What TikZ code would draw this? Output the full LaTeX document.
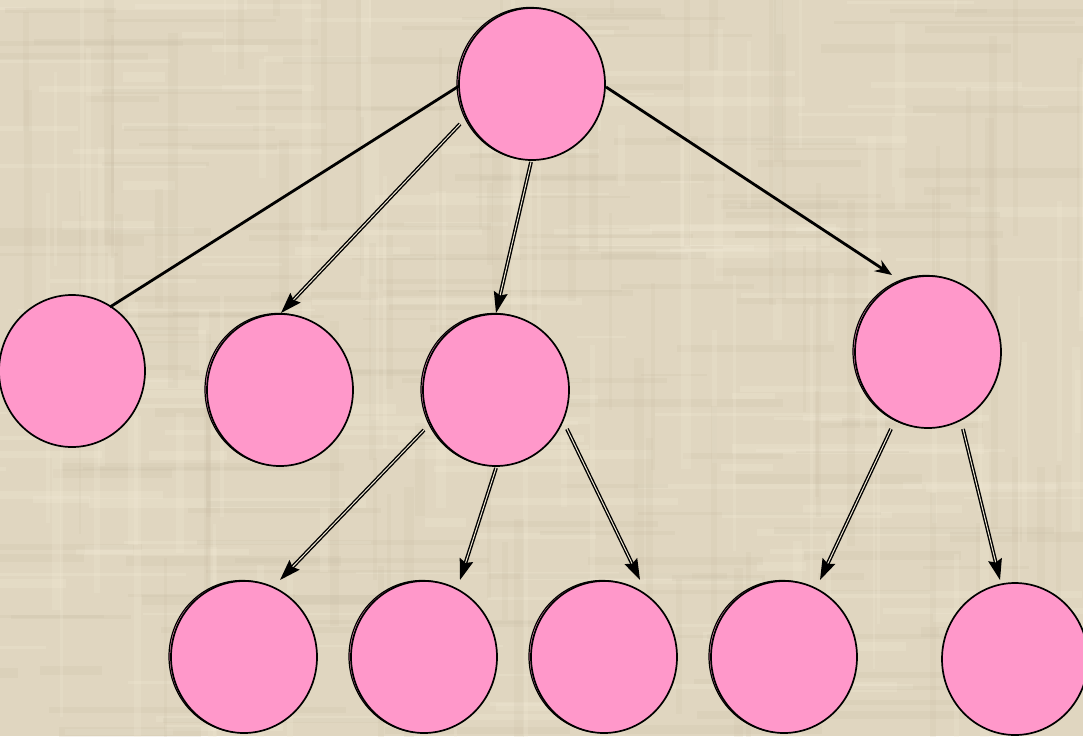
\documentclass[tikz,border=0pt]{standalone}
\usetikzlibrary{shapes.geometric,arrows.meta,shadows}
\definecolor{paper}{RGB}{224,214,192}
\definecolor{paperlight}{RGB}{242,234,214}
\definecolor{paperdark}{RGB}{200,188,164}
\definecolor{petal}{RGB}{255,152,202}
\tikzset{
  treenode/.style={ellipse, draw=black, line width=1.7pt, fill=petal,
    minimum width=146pt, minimum height=152pt, inner sep=0pt},
  ringed/.style={copy shadow={shadow xshift=-2pt, shadow yshift=0.5pt,
    opacity=1, fill=petal, draw=black, line width=1.2pt}},
  plainedge/.style={line width=2.8pt, draw=black},
  twinedge/.style={draw=black, line width=1.4pt, double=paperlight,
    double distance=1pt, -{Stealth[length=21pt, width=14pt, inset=3pt]}},
  singleedge/.style={line width=2.8pt, draw=black, -{Stealth[length=17pt, width=13pt]}}
}
\begin{document}
\begin{tikzpicture}[x=1pt, y=-1pt]
  \useasboundingbox (0,0) rectangle (1083,736);
  % paper background with a faint woven texture
  \begin{scope}
    \clip (0,0) rectangle (1083,736);
    \fill[paper] (0,0) rectangle (1083,736);
    \pgfmathsetseed{11}
    \foreach \i in {1,...,140}{
      \pgfmathsetmacro{\ya}{rnd*736}
      \pgfmathsetmacro{\xa}{rnd*1083-100}
      \pgfmathsetmacro{\wa}{40+rnd*260}
      \pgfmathsetmacro{\ha}{2+rnd*8}
      \fill[paperlight, opacity=0.25] (\xa,\ya) rectangle ++(\wa,\ha);
    }
    \foreach \i in {1,...,140}{
      \pgfmathsetmacro{\ya}{rnd*736}
      \pgfmathsetmacro{\xa}{rnd*1083-100}
      \pgfmathsetmacro{\wa}{40+rnd*260}
      \pgfmathsetmacro{\ha}{2+rnd*8}
      \fill[paperdark, opacity=0.18] (\xa,\ya) rectangle ++(\wa,\ha);
    }
    \foreach \i in {1,...,70}{
      \pgfmathsetmacro{\xa}{rnd*1083}
      \pgfmathsetmacro{\ya}{rnd*736-150}
      \pgfmathsetmacro{\ha}{60+rnd*300}
      \pgfmathsetmacro{\wa}{2+rnd*8}
      \fill[paperlight, opacity=0.22] (\xa,\ya) rectangle ++(\wa,\ha);
    }
    \foreach \i in {1,...,70}{
      \pgfmathsetmacro{\xa}{rnd*1083}
      \pgfmathsetmacro{\ya}{rnd*736-150}
      \pgfmathsetmacro{\ha}{60+rnd*300}
      \pgfmathsetmacro{\wa}{2+rnd*8}
      \fill[paperdark, opacity=0.15] (\xa,\ya) rectangle ++(\wa,\ha);
    }
  \end{scope}

  % tree nodes
  \node[treenode, ringed] (root) at (532,84) {};
  \node[treenode] (a) at (72,371) {};
  \node[treenode, ringed] (b) at (280,390) {};
  \node[treenode, ringed] (c) at (496,390) {};
  \node[treenode, ringed] (d) at (928,352) {};
  \node[treenode, ringed] (c1) at (244,657) {};
  \node[treenode, ringed] (c2) at (424,657) {};
  \node[treenode, ringed] (c3) at (604,657) {};
  \node[treenode, ringed] (d1) at (784,657) {};
  \node[treenode] (d2) at (1015,659) {};

  % connector end points
  \coordinate (rA) at (459,86);   \coordinate (aR) at (110,307);
  \coordinate (rB) at (460,124);  \coordinate (bR) at (281,313);
  \coordinate (rC) at (531,162);  \coordinate (cR) at (496,313);
  \coordinate (rD) at (606,87);   \coordinate (dR) at (892,275);
  \coordinate (cX) at (424,430);  \coordinate (c1C) at (280,580);
  \coordinate (cY) at (496,468);  \coordinate (c2C) at (460,580);
  \coordinate (cZ) at (567,429);  \coordinate (c3C) at (640,580);
  \coordinate (dX) at (891,429);  \coordinate (d1D) at (820,580);
  \coordinate (dY) at (963,429);  \coordinate (d2D) at (1000,580);

  % connectors
  \draw[plainedge] (rA) -- (aR);
  \draw[twinedge] (rB) -- (bR);
  \draw[twinedge] (rC) -- (cR);
  \draw[singleedge] (rD) -- (dR);
  \draw[twinedge] (cX) -- (c1C);
  \draw[twinedge] (cY) -- (c2C);
  \draw[twinedge] (cZ) -- (c3C);
  \draw[twinedge] (dX) -- (d1D);
  \draw[twinedge] (dY) -- (d2D);
\end{tikzpicture}
\end{document}
